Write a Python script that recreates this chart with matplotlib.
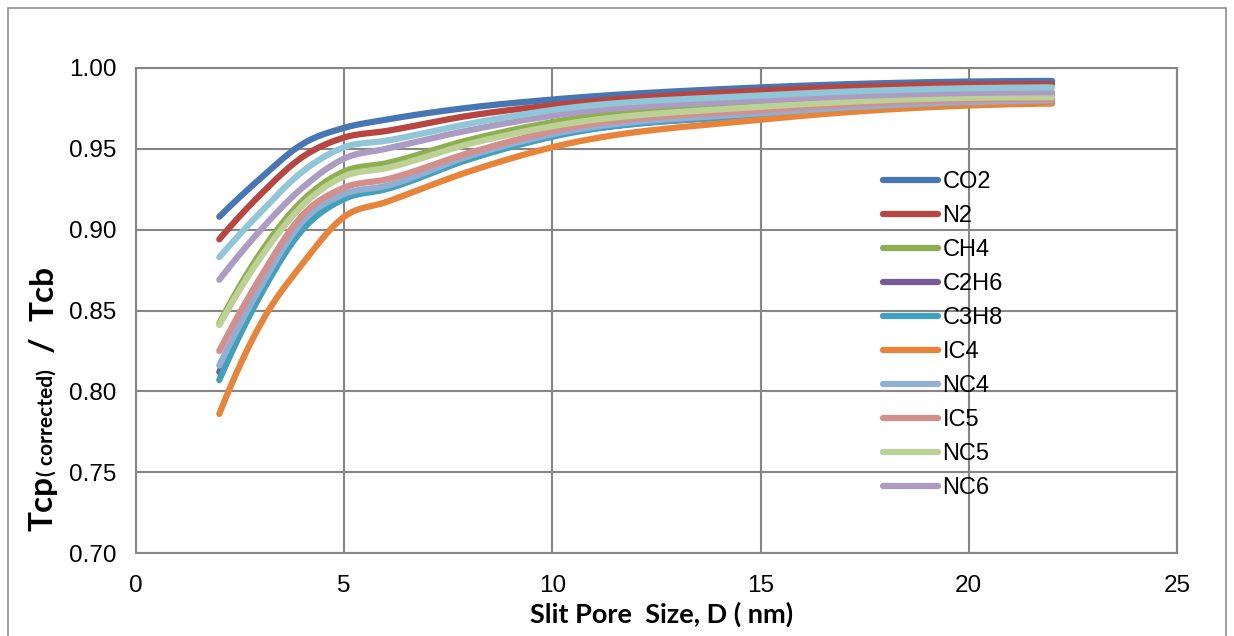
import numpy as np
import matplotlib
matplotlib.use("Agg")
import matplotlib.pyplot as plt
from matplotlib.patches import Rectangle

# ---------------- data ----------------
pore_size = [2, 3, 4, 5, 6, 8, 10, 15, 22]

CO2  = [0.908, 0.932, 0.953, 0.963, 0.968, 0.9755, 0.9805, 0.988, 0.992]
N2   = [0.894, 0.922, 0.945, 0.957, 0.961, 0.9705, 0.9770, 0.986, 0.990]
CH4  = [0.842, 0.886, 0.918, 0.936, 0.941, 0.9555, 0.9665, 0.978, 0.983]
C2H6 = [0.812, 0.862, 0.903, 0.921, 0.926, 0.9445, 0.9580, 0.971, 0.979]
C3H8 = [0.807, 0.860, 0.900, 0.919, 0.925, 0.9435, 0.9575, 0.971, 0.979]
IC4  = [0.786, 0.842, 0.879, 0.908, 0.917, 0.9360, 0.9510, 0.968, 0.978]
NC4  = [0.816, 0.865, 0.905, 0.922, 0.927, 0.9455, 0.9590, 0.972, 0.980]
IC5  = [0.825, 0.871, 0.909, 0.926, 0.931, 0.9475, 0.9610, 0.974, 0.981]
NC5  = [0.841, 0.883, 0.915, 0.933, 0.938, 0.9530, 0.9640, 0.976, 0.982]
NC6  = [0.869, 0.900, 0.926, 0.944, 0.950, 0.9615, 0.9705, 0.980, 0.985]
S11  = [0.883, 0.911, 0.936, 0.951, 0.955, 0.9655, 0.9740, 0.983, 0.988]  # 11th series, not in legend

series_names = ["CO2", "N2", "CH4", "C2H6", "C3H8", "IC4", "NC4", "IC5", "NC5", "NC6", None]
series_values = [CO2, N2, CH4, C2H6, C3H8, IC4, NC4, IC5, NC5, NC6, S11]
series_colors = ["#4776B4", "#B94541", "#8EAF4E", "#775B98", "#40A1BC", "#E8843A",
                 "#92AED3", "#D48F8D", "#BCD196", "#AC9BC2", "#8FC6D8"]

x_ticks = [0, 5, 10, 15, 20, 25]
y_ticks = [0.70, 0.75, 0.80, 0.85, 0.90, 0.95, 1.00]
x_label = "Slit Pore  Size, D ( nm)"


def smooth(xs, ys, n=60):
    """Smooth curve through the points (cubic Hermite, 3-point slopes)."""
    x = np.asarray(xs, float)
    y = np.asarray(ys, float)
    h = np.diff(x)
    dl = np.diff(y) / h
    d = np.empty_like(y)
    for i in range(1, len(x) - 1):
        d[i] = (h[i] * dl[i - 1] + h[i - 1] * dl[i]) / (h[i - 1] + h[i])
    d[0] = 2 * dl[0] - d[1]
    d[-1] = 2 * dl[-1] - d[-2]
    X, Y = [], []
    for i in range(len(x) - 1):
        t = np.linspace(0, 1, n)
        h00 = 2 * t**3 - 3 * t**2 + 1
        h10 = t**3 - 2 * t**2 + t
        h01 = -2 * t**3 + 3 * t**2
        h11 = t**3 - t**2
        yy = h00 * y[i] + h10 * h[i] * d[i] + h01 * y[i + 1] + h11 * h[i] * d[i + 1]
        xx = x[i] + t * h[i]
        if i > 0:
            xx, yy = xx[1:], yy[1:]
        X.append(xx)
        Y.append(yy)
    return np.concatenate(X), np.concatenate(Y)


W, H = 1234, 636
fig = plt.figure(figsize=(W / 100, H / 100), dpi=100)
fig.patch.set_facecolor("white")

# outer chart border
fig.add_artist(Rectangle((8 / W, -0.05), (1226 - 8) / W, (H - 8) / H + 0.05,
                         transform=fig.transFigure, fill=False,
                         edgecolor="#868686", linewidth=1.1))

ax = fig.add_axes([136 / W, 1 - 553 / H, (1177 - 136) / W, (553 - 68) / H])
grid_c = "#868686"
for s in ax.spines.values():
    s.set_color(grid_c)
    s.set_linewidth(1.5)
ax.set_xlim(0, 25)
ax.set_ylim(0.70, 1.00)
ax.set_xticks(x_ticks)
ax.set_yticks(y_ticks)
ax.set_xticklabels([str(v) for v in x_ticks], family="Liberation Sans", fontsize=17.5)
ax.set_yticklabels([f"{v:.2f}" for v in y_ticks], family="Liberation Sans", fontsize=17.5)
ax.grid(True, color=grid_c, linewidth=1.5)
ax.set_axisbelow(True)
ax.tick_params(axis="both", length=0, labelcolor="#000000")
ax.tick_params(axis="x", pad=16)
ax.tick_params(axis="y", pad=14)

handles = []
for name, vals, col in zip(series_names, series_values, series_colors):
    sx, sy = smooth(pore_size, vals)
    ln, = ax.plot(sx, sy, color=col, linewidth=4.5, solid_capstyle="round",
                  label=name if name else "_nolegend_", zorder=3)
    if name:
        handles.append(ln)

fs_leg = 17
leg = ax.legend(handles=handles, loc="upper left",
                bbox_to_anchor=(883 / W, 1 - 171 / H), bbox_transform=fig.transFigure,
                frameon=False, prop={"family": "Liberation Sans", "size": fs_leg},
                handlelength=2.35, handletextpad=0.17, labelspacing=0.51,
                borderaxespad=0, borderpad=0)

# x label
fig.text(662 / W, 1 - 614 / H, x_label, ha="center", va="center",
         fontsize=19.5, fontweight="bold", family="Lato")

# y label built from pieces (rotated, stacked upward)
fig.canvas.draw()
renderer = fig.canvas.get_renderer()
pieces = [("Tcp", 24), ("( corrected)", 15), ("  /  ", 24), ("Tcb", 24)]
x_base = 53 / W
y_cur = 531.0
for txt, fs in pieces:
    t = fig.text(x_base, 1 - y_cur / H, txt, rotation=90, rotation_mode="anchor",
                 ha="left", va="baseline", fontsize=fs, fontweight="bold", family="Lato")
    bb = t.get_window_extent(renderer)
    y_cur -= bb.height

fig.savefig("out.png", dpi=100)
